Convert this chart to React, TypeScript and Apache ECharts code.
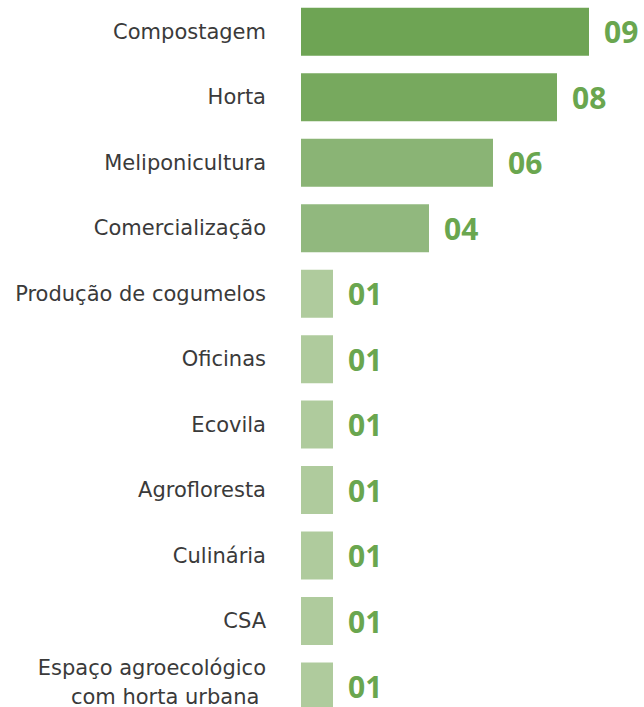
import React, { useEffect, useRef } from "react";
import * as echarts from "echarts";

const categories = [
  "Compostagem",
  "Horta",
  "Meliponicultura",
  "Comercialização",
  "Produção de cogumelos",
  "Oficinas",
  "Ecovila",
  "Agrofloresta",
  "Culinária",
  "CSA",
  "Espaço agroecológico\ncom horta urbana\u00a0",
];
const values = [9, 8, 6, 4, 1, 1, 1, 1, 1, 1, 1];
const barColors = [
  "#6ea454",
  "#77a95e",
  "#8ab475",
  "#91b87e",
  "#afcb9d",
  "#afcb9d",
  "#afcb9d",
  "#afcb9d",
  "#afcb9d",
  "#afcb9d",
  "#afcb9d",
];

const labelFont = {
  fontFamily: "DejaVu Sans",
  fontSize: 21,
  fontWeight: 400,
  color: "#3a3a3a",
  lineHeight: 29,
  align: "right",
};

export default function App() {
  const ref = useRef<HTMLDivElement>(null);
  useEffect(() => {
    if (!ref.current) return;
    const chart = echarts.init(ref.current, undefined, { renderer: "svg" });
    chart.setOption({
      animation: false,
      grid: { left: 301, right: 23, top: 0, bottom: 0, containLabel: false },
      xAxis: { type: "value", min: 0, max: 10, show: false },
      yAxis: {
        type: "category",
        inverse: true,
        data: categories,
        axisLine: { show: false },
        axisTick: { show: false },
        splitLine: { show: false },
        axisLabel: {
          margin: 35,
          ...labelFont,
          formatter: (v: string) =>
            v.indexOf("\n") >= 0
              ? v
                  .split("\n")
                  .map((l) => `{l|${l}}`)
                  .join("\n") + "\n{s|\u00a0}"
              : v,
          rich: {
            l: { ...labelFont },
            s: { fontSize: 2, lineHeight: 9, align: "right" },
          },
        },
      },
      series: [
        {
          type: "bar",
          barWidth: 48,
          data: values.map((v, i) => ({ value: v, itemStyle: { color: barColors[i] } })),
          label: {
            show: true,
            position: "right",
            distance: 15,
            formatter: (p: any) => String(p.value).padStart(2, "0"),
            fontFamily: "Open Sans",
            fontWeight: 700,
            fontSize: 30,
            color: "#6aa64f",
          },
        },
      ],
    });
    return () => chart.dispose();
  }, []);
  return (
    <div
      style={{
        position: "fixed",
        left: 0,
        top: 0,
        width: 644,
        height: 707,
        overflow: "hidden",
        background: "#fff",
      }}
    >
      <div
        ref={ref}
        style={{ position: "absolute", left: 0, top: -1, width: 644, height: 721 }}
      />
    </div>
  );
}
